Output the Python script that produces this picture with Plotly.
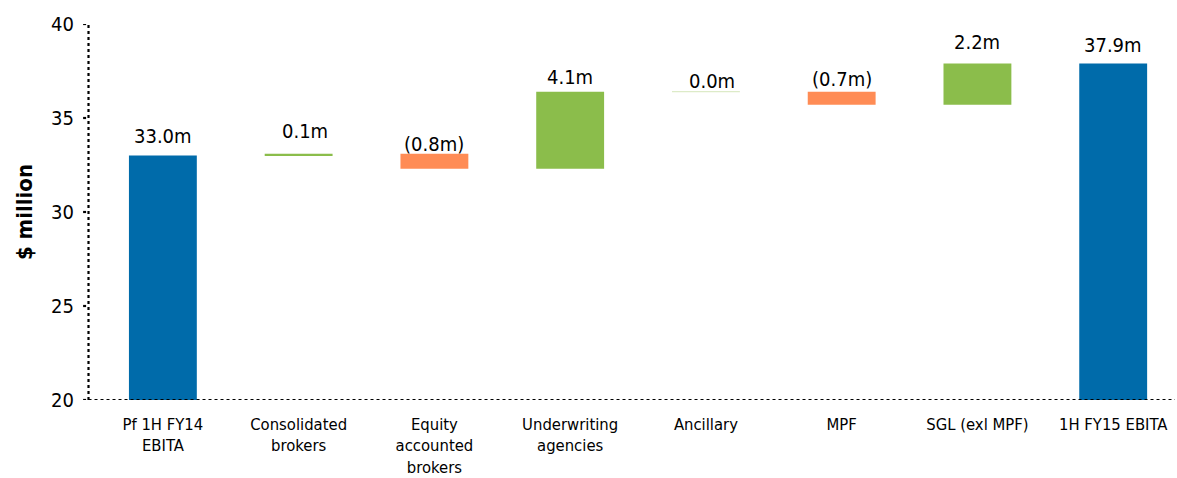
import plotly.graph_objects as go

# EBITA bridge, $ million
categories = [
    "Pf 1H FY14<br>EBITA",
    "Consolidated<br>brokers",
    "Equity<br>accounted<br>brokers",
    "Underwriting<br>agencies",
    "Ancillary",
    "MPF",
    "SGL (exl MPF)",
    "1H FY15 EBITA",
]
start_value = 33.0
changes = [0.1, -0.8, 4.1, 0.0, -0.7, 2.2]
end_value = 37.9
labels = ["33.0m", "0.1m", "(0.8m)", "4.1m", "0.0m", "(0.7m)", "2.2m", "37.9m"]
y_ticks = [20, 25, 30, 35, 40]

BLUE = "#006BAA"
GREEN = "#8BBD4B"
ORANGE = "#FF8C55"
FONT = "Tahoma, 'DejaVu Sans Condensed', 'Liberation Sans', sans-serif"

# bases and heights of the floating bars
bases, heights, colors = [20], [start_value - 20], [BLUE]
running = start_value
for c in changes:
    bases.append(running)
    heights.append(c)
    colors.append(GREEN if c >= 0 else ORANGE)
    running += c
bases.append(20)
heights.append(end_value - 20)
colors.append(BLUE)
tops = [b + max(h, 0) for b, h in zip(bases, heights)]

x = list(range(len(categories)))
line_w = [0, 0, 0, 0, 1.2, 0, 0, 0]
line_c = ["rgba(0,0,0,0)"] * 4 + ["#DDEBC8"] + ["rgba(0,0,0,0)"] * 3

fig = go.Figure(
    go.Bar(
        x=x,
        y=heights,
        base=bases,
        width=0.5,
        marker=dict(color=colors, line=dict(width=line_w, color=line_c)),
        hoverinfo="skip",
    )
)

# value labels above each bar
label_gap = [10, 13, 0, 5, 1, 3, 11, 8]
label_dx = [0, 6, 0, 0, 6, 0, 0, 0]
for i, (t, lab) in enumerate(zip(tops, labels)):
    fig.add_annotation(
        x=i, y=t, text=lab, showarrow=False, yanchor="bottom",
        yshift=label_gap[i] - 4, xshift=label_dx[i],
        font=dict(family=FONT, size=20, color="black"),
    )

# dotted axes and tick marks
dot = dict(color="black", width=2.2, dash="dot")
fig.add_shape(type="line", xref="paper", yref="y", x0=-0.006, x1=-0.006,
              y0=20, y1=40, line=dot)
fig.add_shape(type="line", xref="paper", yref="y", x0=-0.006, x1=0.998,
              y0=20, y1=20, line=dot)
for t in y_ticks:
    fig.add_shape(type="line", xref="paper", yref="y", x0=-0.011, x1=-0.006,
                  y0=t, y1=t, line=dot)

fig.update_layout(
    width=1177,
    height=478,
    margin=dict(l=95, r=0, t=24, b=78),
    plot_bgcolor="white",
    paper_bgcolor="white",
    showlegend=False,
    bargap=0.5,
    font=dict(family=FONT, color="black"),
)
fig.update_xaxes(
    range=[-0.5, 7.47],
    tickvals=x,
    ticktext=categories,
    tickfont=dict(size=16.5),
    showgrid=False,
    showline=False,
    zeroline=False,
    ticks="outside",
    ticklen=9,
    tickcolor="rgba(0,0,0,0)",
    automargin=False,
)
fig.update_yaxes(
    range=[20, 40],
    tickvals=y_ticks,
    tickfont=dict(size=20),
    showgrid=False,
    showline=False,
    zeroline=False,
    ticks="outside",
    ticklen=16,
    tickcolor="rgba(0,0,0,0)",
    automargin=False,
    title=dict(text="<b>$ million</b>", font=dict(size=22), standoff=12),
)

fig.write_html("out.html")
